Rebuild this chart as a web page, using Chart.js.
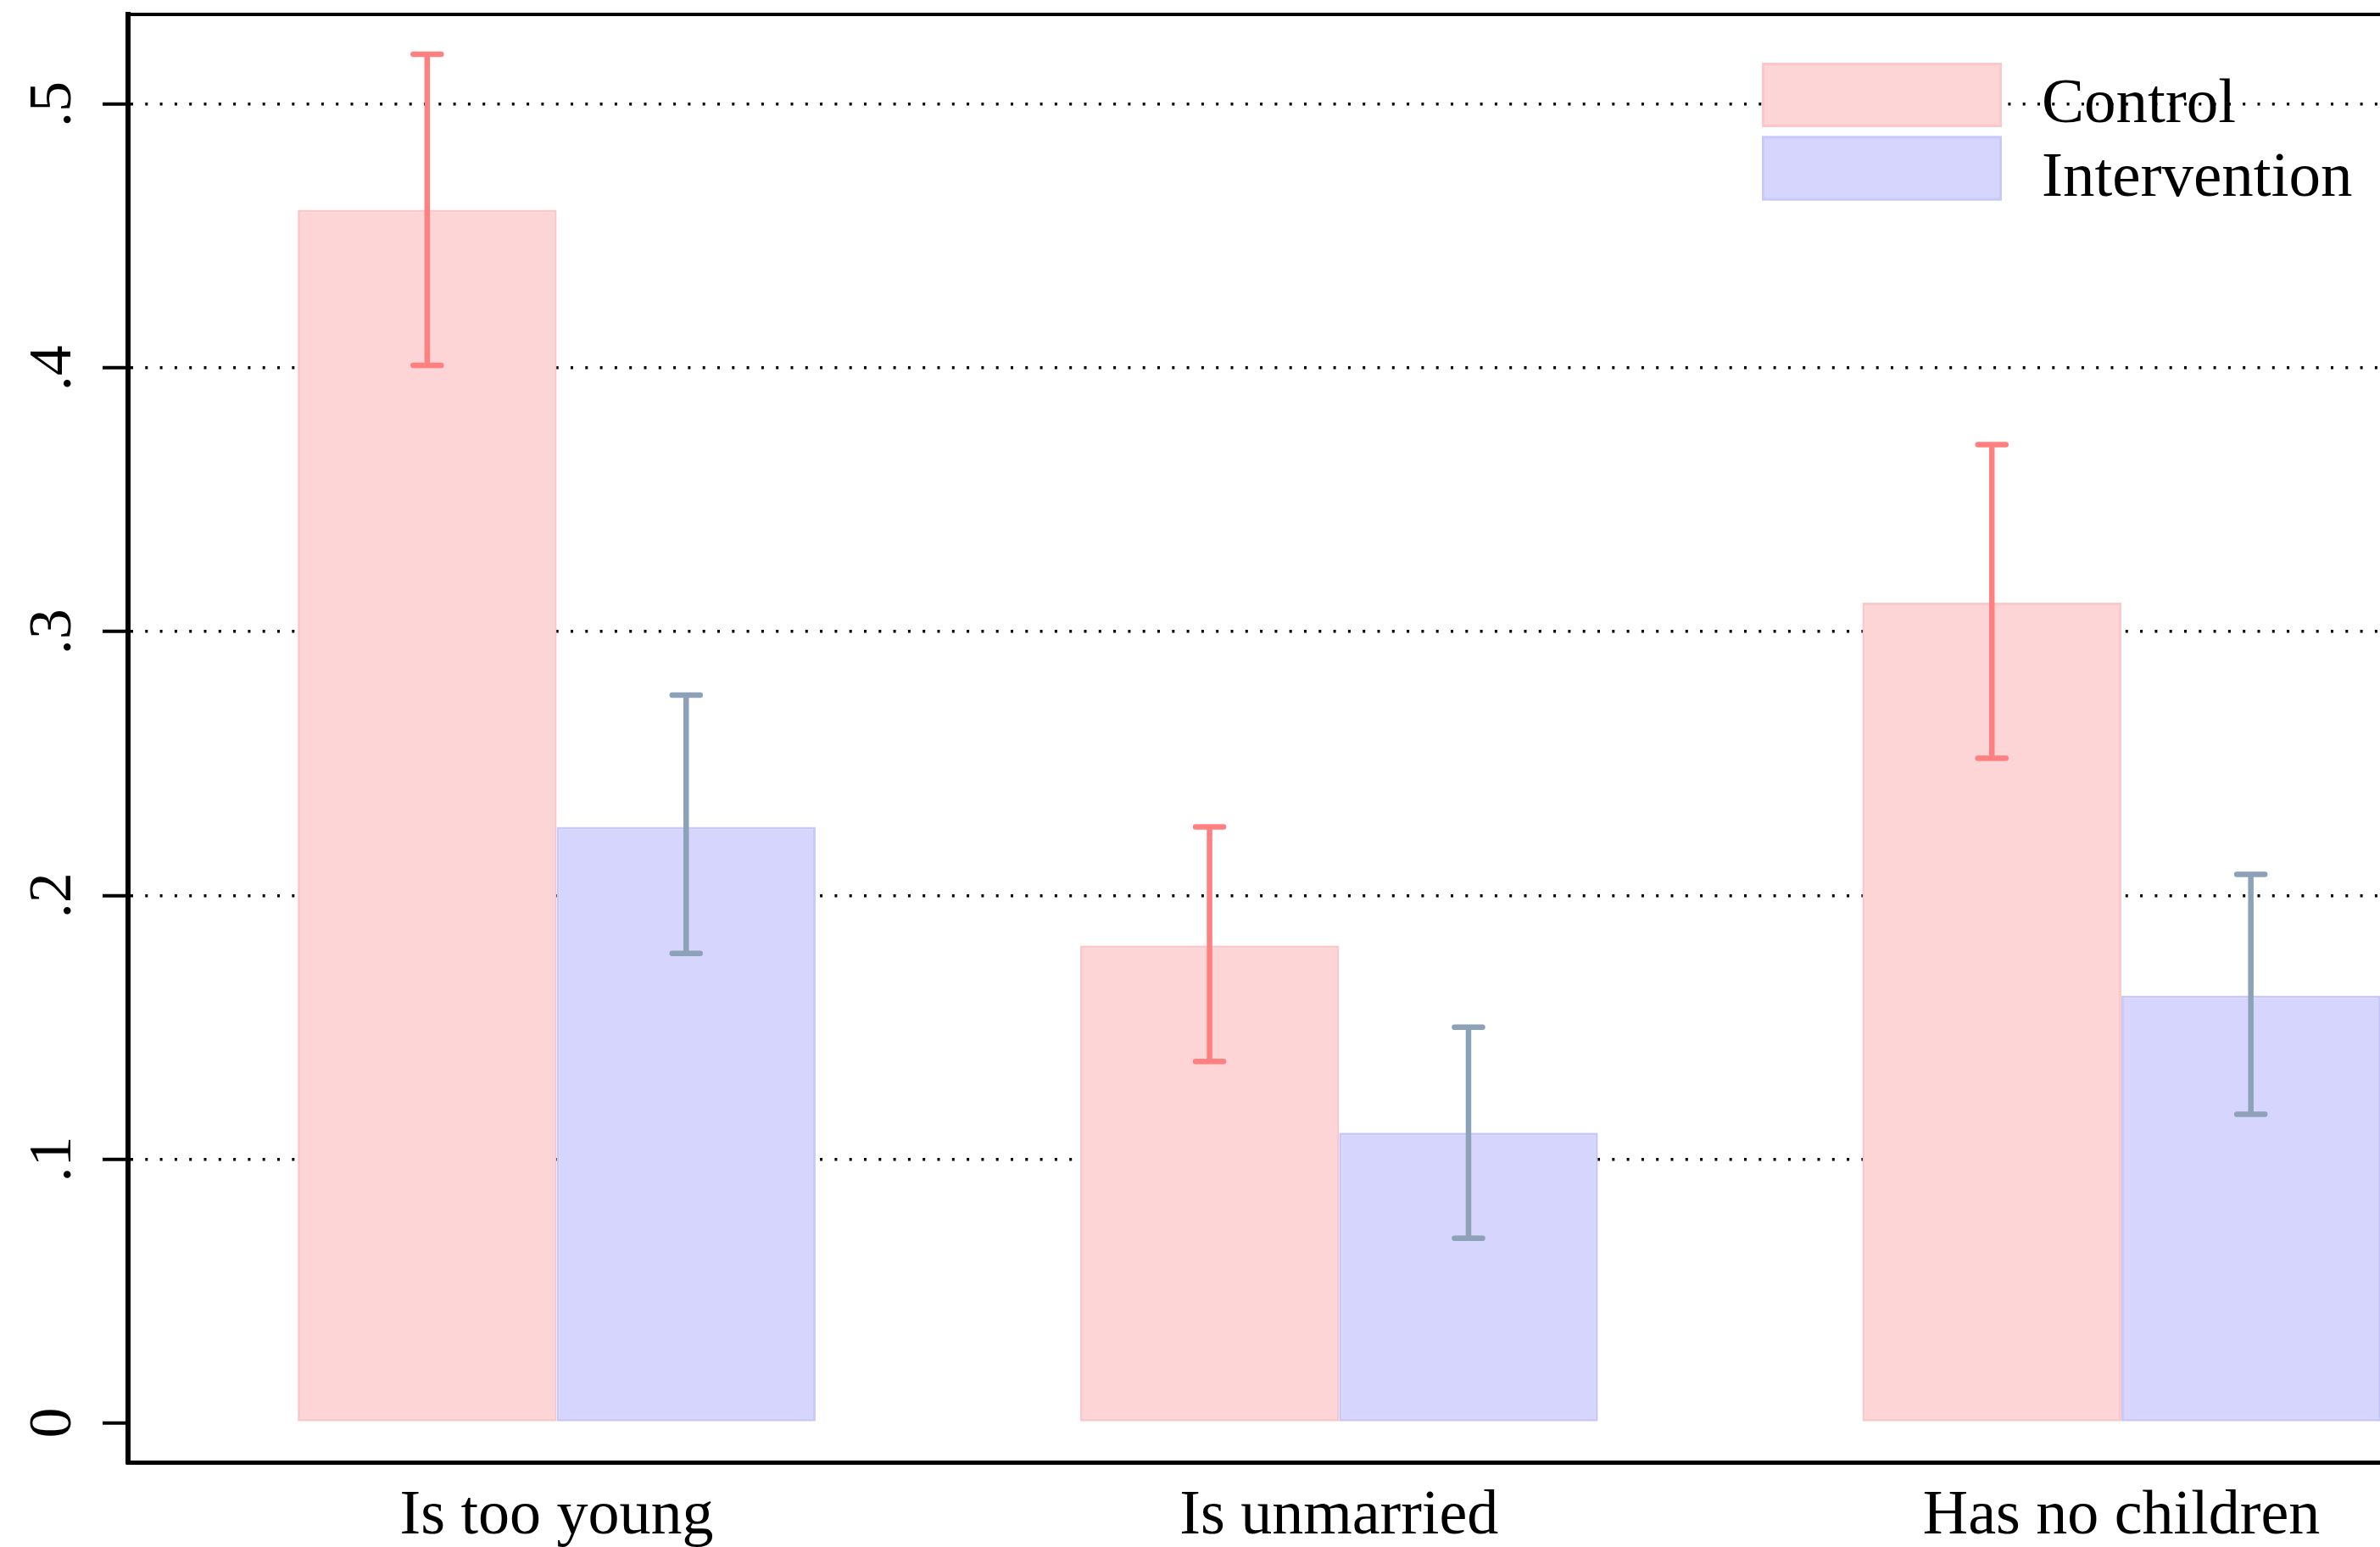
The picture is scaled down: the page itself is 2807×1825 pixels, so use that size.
<!DOCTYPE html>
<html><head><meta charset="utf-8">
<script src="https://cdn.jsdelivr.net/npm/chart.js@4.4.1/dist/chart.umd.min.js"></script>
<style>html,body{margin:0;padding:0;background:#fff;overflow:hidden}canvas{display:block}</style>
</head><body>
<canvas id="c" width="2807" height="1825"></canvas>
<script>
const categories = ['Is too young', 'Is unmarried', 'Has no children'];
const seriesNames = ['Control', 'Intervention'];
const controlValues = [0.460, 0.181, 0.311];
const controlLower = [0.401, 0.137, 0.252];
const controlUpper = [0.519, 0.226, 0.371];
const interventionValues = [0.226, 0.110, 0.162];
const interventionLower = [0.178, 0.070, 0.117];
const interventionUpper = [0.276, 0.150, 0.208];
const yTickValues = [0, 0.1, 0.2, 0.3, 0.4, 0.5];
const yTickLabels = ['0', '.1', '.2', '.3', '.4', '.5'];

const SERIF = '"Liberation Serif", "Times New Roman", serif';

const errorBars = {
  id: 'errorBars',
  afterDatasetsDraw(chart) {
    const ctx = chart.ctx, ys = chart.scales.y;
    chart.data.datasets.forEach((ds, di) => {
      const meta = chart.getDatasetMeta(di);
      meta.data.forEach((bar, i) => {
        const x = bar.x;
        const yl = ys.getPixelForValue(ds.errLower[i]);
        const yh = ys.getPixelForValue(ds.errUpper[i]);
        ctx.save();
        ctx.strokeStyle = ds.errColor;
        ctx.lineWidth = 6.5;
        ctx.lineCap = 'butt';
        ctx.beginPath(); ctx.moveTo(x, yl); ctx.lineTo(x, yh); ctx.stroke();
        ctx.lineCap = 'round';
        ctx.beginPath();
        ctx.moveTo(x - 16.5, yl); ctx.lineTo(x + 16.5, yl);
        ctx.moveTo(x - 16.5, yh); ctx.lineTo(x + 16.5, yh);
        ctx.stroke();
        ctx.restore();
      });
    });
  }
};

const frameTop = {
  id: 'frameTop',
  afterDraw(chart) {
    const ctx = chart.ctx, a = chart.chartArea;
    ctx.save();
    ctx.strokeStyle = '#000';
    ctx.lineWidth = 4;
    ctx.beginPath(); ctx.moveTo(a.left - 3, a.top); ctx.lineTo(a.right, a.top); ctx.stroke();
    ctx.restore();
  }
};

const legendBox = {
  id: 'legendBox',
  afterDraw(chart) {
    const ctx = chart.ctx;
    chart.data.datasets.forEach((ds, i) => {
      const bx = 2078, by = 74 + i * 86.5, bw = 283, bh = 76;
      ctx.save();
      ctx.fillStyle = ds.backgroundColor;
      ctx.fillRect(bx, by, bw, bh);
      ctx.strokeStyle = ds.borderColor;
      ctx.lineWidth = 3;
      ctx.strokeRect(bx + 1.5, by + 1.5, bw - 3, bh - 3);
      ctx.fillStyle = '#000';
      ctx.font = '75px ' + SERIF;
      ctx.textAlign = 'left';
      ctx.textBaseline = 'alphabetic';
      ctx.fillText(ds.label, 2408, 144 + i * 86.5);
      ctx.restore();
    });
  }
};

new Chart(document.getElementById('c'), {
  type: 'bar',
  data: {
    datasets: [
      {
        label: seriesNames[0],
        data: controlValues.map((v, i) => ({x: i + 1, y: v})),
        backgroundColor: '#FDD5D6',
        borderColor: '#FBC7C9',
        borderWidth: 3,
        borderSkipped: false,
        categoryPercentage: 0.662,
        barPercentage: 1,
        errLower: controlLower,
        errUpper: controlUpper,
        errColor: '#FF8080'
      },
      {
        label: seriesNames[1],
        data: interventionValues.map((v, i) => ({x: i + 1, y: v})),
        backgroundColor: '#D6D5FD',
        borderColor: '#C9C8FB',
        borderWidth: 3,
        borderSkipped: false,
        categoryPercentage: 0.662,
        barPercentage: 1,
        errLower: interventionLower,
        errUpper: interventionUpper,
        errColor: '#8DA2B8'
      }
    ]
  },
  options: {
    responsive: false,
    animation: false,
    events: [],
    devicePixelRatio: 1,
    layout: {padding: {top: 17, left: 0, right: 0, bottom: 0}},
    plugins: {legend: {display: false}, tooltip: {enabled: false}},
    scales: {
      x: {
        type: 'linear',
        min: 0.4521,
        max: 3.3306,
        offset: false,
        bounds: 'data',
        grid: {display: false, drawTicks: false},
        border: {display: true, color: '#000', width: 5},
        ticks: {
          font: {family: SERIF, size: 74},
          color: '#000',
          padding: 20,
          minRotation: 0,
          maxRotation: 0,
          autoSkip: false,
          callback: (v) => categories[Math.round(v) - 1] ?? ''
        },
        afterBuildTicks: (s) => { s.ticks = categories.map((c, i) => ({value: i + 1})); },
        afterFit: (s) => { s.height = 99.5; s.paddingLeft = 0; s.paddingRight = 0; }
      },
      y: {
        type: 'linear',
        min: -0.01511,
        max: 0.5341,
        grid: {
          color: (c) => (c.tick && c.tick.value === 0) ? 'rgba(0,0,0,0)' : '#000',
          lineWidth: 3.5,
          drawTicks: true,
          tickLength: 30,
          tickColor: '#000',
          tickWidth: 4,
          tickBorderDash: []
        },
        border: {display: true, color: '#000', width: 6, dash: [3, 14.3], dashOffset: 0},
        ticks: {
          font: {family: SERIF, size: 72},
          color: '#000',
          minRotation: 90,
          maxRotation: 90,
          crossAlign: 'center',
          padding: 30,
          autoSkip: false,
          callback: (v) => {
            const i = yTickValues.findIndex(t => Math.abs(t - v) < 1e-9);
            return i >= 0 ? yTickLabels[i] : '';
          }
        },
        afterBuildTicks: (s) => { s.ticks = yTickValues.map(v => ({value: v})); },
        afterFit: (s) => { s.width = 151; s.paddingTop = 0; s.paddingBottom = 0; }
      }
    }
  },
  plugins: [errorBars, frameTop, legendBox]
});
</script>
</body></html>
